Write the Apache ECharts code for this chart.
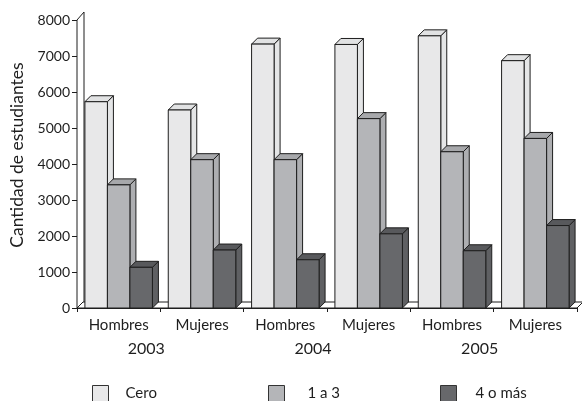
<!DOCTYPE html>
<html>
<head>
<meta charset="utf-8">
<style>
  html, body { margin: 0; padding: 0; background: #ffffff; }
  #chart { width: 582px; height: 401px; }
</style>
<script src="https://cdn.jsdelivr.net/npm/echarts@6/dist/echarts.min.js"></script>
</head>
<body>
<div id="chart"></div>
<script>
// Students by group and year, 2003-2005
const categories = ['Hombres', 'Mujeres', 'Hombres', 'Mujeres', 'Hombres', 'Mujeres'];
const years = ['2003', '2004', '2005'];
const seriesNames = ['Cero', '1 a 3', '4 o más'];
const cero = [5730, 5500, 7330, 7320, 7560, 6870];
const unoATres = [3420, 4120, 4120, 5260, 4340, 4710];
const cuatroOMas = [1130, 1610, 1340, 2060, 1590, 2290];
const yTicks = { min: 0, max: 8000, interval: 1000 };

const FONT = 'Lato, "Open Sans", sans-serif';
const INK = '#1e1e1e';
const DEPTH = 6;

// face colours: front, top, side
const palette = [
  { front: '#e8e8e9', top: '#e1e2e3', side: '#e4e5e6' },
  { front: '#b4b5b8', top: '#a7a8ab', side: '#adaeb1' },
  { front: '#67686b', top: '#58595c', side: '#5f6063' }
];

// one 3D-looking box per data item, three boxes side by side per category
function boxRenderer(idx) {
  return function (params, api) {
    const cat = api.value(0);
    const v = api.value(1);
    const base = api.coord([cat, 0]);
    const top = api.coord([cat, v]);
    const catW = api.size([1, 0])[0];
    const w = catW * 0.27;
    const x0 = base[0] - 1.5 * w + idx * w;
    const x1 = x0 + w;
    const y0 = base[1];
    const y1 = top[1];
    const c = palette[idx];
    const stroke = { stroke: INK, lineWidth: 1, lineJoin: 'miter' };
    return {
      type: 'group',
      children: [
        {
          type: 'polygon',
          shape: { points: [[x1, y0], [x1, y1], [x1 + DEPTH, y1 - DEPTH], [x1 + DEPTH, y0 - DEPTH]] },
          style: Object.assign({ fill: c.side }, stroke)
        },
        {
          type: 'polygon',
          shape: { points: [[x0, y1], [x1, y1], [x1 + DEPTH, y1 - DEPTH], [x0 + DEPTH, y1 - DEPTH]] },
          style: Object.assign({ fill: c.top }, stroke)
        },
        {
          type: 'rect',
          shape: { x: x0, y: y1, width: w, height: y0 - y1 },
          style: Object.assign({ fill: c.front }, stroke)
        }
      ]
    };
  };
}

// floor and left wall of the plot box
function frameRenderer(params) {
  const cs = params.coordSys;
  const x = cs.x, y = cs.y, w = cs.width, h = cs.height;
  const d = 7;
  const stroke = { stroke: INK, lineWidth: 1, fill: '#ffffff' };
  return {
    type: 'group',
    children: [
      {
        type: 'polygon',
        shape: { points: [[x, y + h], [x, y], [x + d, y - d - 1], [x + d, y + h - DEPTH]] },
        style: stroke
      },
      {
        type: 'polygon',
        shape: { points: [[x, y + h], [x + w, y + h], [x + w + DEPTH, y + h - DEPTH], [x + DEPTH, y + h - DEPTH]] },
        style: stroke
      }
    ]
  };
}

const seriesValues = [cero, unoATres, cuatroOMas];

const chart = echarts.init(document.getElementById('chart'), null, { renderer: 'canvas' });

const series = [
  {
    type: 'custom',
    name: 'frame',
    xAxisIndex: 0,
    yAxisIndex: 0,
    silent: true,
    clip: false,
    z: 1,
    renderItem: frameRenderer,
    data: [[0, 0]]
  }
].concat(seriesValues.map(function (vals, i) {
  return {
    type: 'custom',
    name: seriesNames[i],
    xAxisIndex: 0,
    yAxisIndex: 0,
    clip: false,
    z: 2 + i,
    itemStyle: { color: palette[i].front, borderColor: INK, borderWidth: 1 },
    encode: { x: 0, y: 1 },
    renderItem: boxRenderer(i),
    data: vals.map(function (v, k) { return [k, v]; })
  };
}));

function legendAt(name, left, gap) {
  return {
    data: [name],
    left: left,
    top: 385,
    padding: 0,
    orient: 'horizontal',
    icon: 'rect',
    itemWidth: 16,
    itemHeight: 16,
    selectedMode: false,
    itemStyle: { borderColor: '#333333', borderWidth: 1 },
    textStyle: { fontFamily: FONT, fontSize: 15, color: INK, padding: [0, 0, 0, gap] }
  };
}

chart.setOption({
  animation: false,
  backgroundColor: '#ffffff',
  grid: { left: 77, right: 5, top: 20, bottom: 93, containLabel: false },
  legend: [
    legendAt(seriesNames[0], 92, 12),
    legendAt(seriesNames[1], 268, 18),
    legendAt(seriesNames[2], 440, 14)
  ],
  xAxis: [
    {
      type: 'category',
      data: categories,
      position: 'bottom',
      axisLine: { show: true, lineStyle: { color: INK, width: 1 } },
      axisTick: { show: true, length: 4, lineStyle: { color: INK } },
      axisLabel: { fontFamily: FONT, fontSize: 15, color: INK, margin: 10 },
      splitLine: { show: false }
    },
    {
      type: 'category',
      data: years,
      position: 'bottom',
      axisLine: { show: false },
      axisTick: { show: false },
      axisLabel: { fontFamily: FONT, fontSize: 16, color: INK, margin: 33, padding: [0, 28, 0, 0] },
      splitLine: { show: false }
    }
  ],
  yAxis: {
    type: 'value',
    min: yTicks.min,
    max: yTicks.max,
    interval: yTicks.interval,
    name: 'Cantidad de estudiantes',
    nameLocation: 'middle',
    nameGap: 48,
    nameRotate: 90,
    nameTextStyle: { fontFamily: FONT, fontSize: 17.5, color: INK, padding: [0, 0, 0, 18] },
    axisLine: { show: true, lineStyle: { color: INK, width: 1 } },
    axisTick: { show: true, length: 5, inside: false, lineStyle: { color: INK } },
    axisLabel: {
      fontFamily: FONT, fontSize: 14, color: INK, margin: 7,
      formatter: function (v) { return String(v); }
    },
    splitLine: { show: false }
  },
  series: series
});
</script>
</body>
</html>
